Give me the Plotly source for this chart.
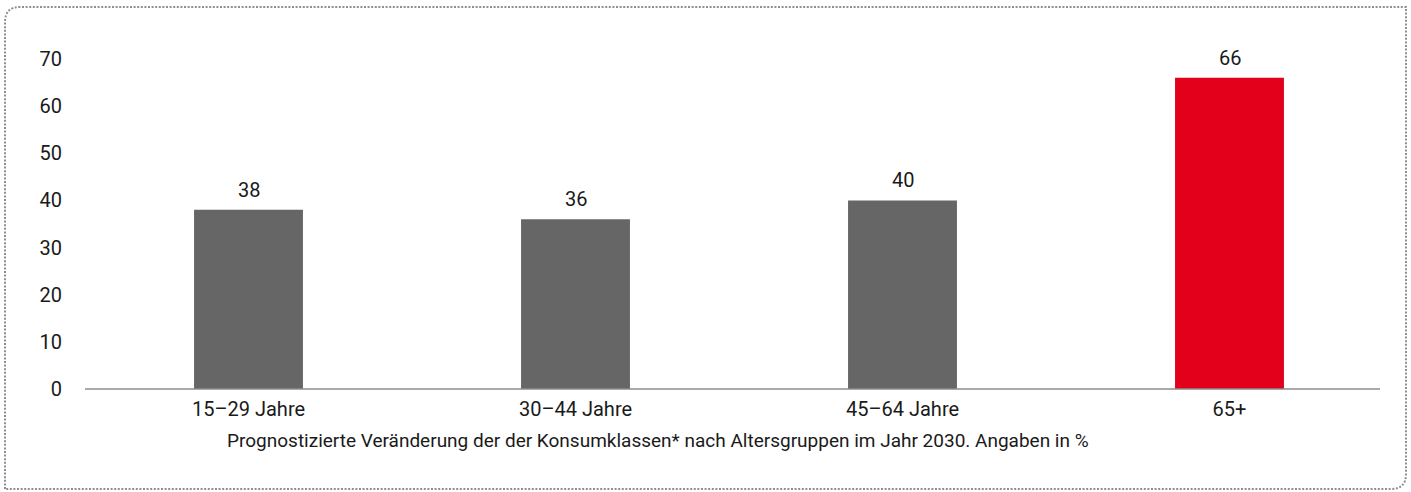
import plotly.graph_objects as go

categories = ["15–29 Jahre", "30–44 Jahre", "45–64 Jahre", "65+"]
values = [38, 36, 40, 66]
bar_colors = ["#666666", "#666666", "#666666", "#E2001A"]
subtitle = "Prognostizierte Veränderung der der Konsumklassen* nach Altersgruppen im Jahr 2030. Angaben in %"

W, H = 1411, 492
L, R, T, B = 85, 18, 59, 103
PW, PH = W - L - R, H - T - B

def px(x):
    return (x - L) / PW

def py(y):
    return (H - B - y) / PH

FONT = "Roboto"
FS = 20
TXT = "#1a1a1a"

fig = go.Figure()
fig.add_trace(go.Bar(
    x=categories, y=values, marker=dict(color=bar_colors, line=dict(width=0)),
    hoverinfo="skip", showlegend=False,
))

for c, v in zip(categories, values):
    fig.add_annotation(x=c, y=v, text=str(v), showarrow=False, yanchor="bottom",
                       yshift=6, font=dict(family=FONT, size=FS, color=TXT))

# caption below the axis
fig.add_annotation(xref="paper", yref="paper", x=px(657.5), y=py(441),
                   xanchor="center", yanchor="middle", showarrow=False, text=subtitle,
                   font=dict(family=FONT, size=19, color=TXT))

# baseline
fig.add_shape(type="line", xref="paper", yref="paper", x0=0, x1=px(1380), y0=0, y1=0,
              line=dict(color="#8c8c8c", width=1.5))

# dotted frame with rounded top-left and bottom-right corners
r = 15
x0, y0, x1, y1 = 5, 7, 1406, 489
path = (f"M {px(x0)},{py(y1)} L {px(x0)},{py(y0 + r)} "
        f"Q {px(x0)},{py(y0)} {px(x0 + r)},{py(y0)} "
        f"L {px(x1)},{py(y0)} L {px(x1)},{py(y1 - r)} "
        f"Q {px(x1)},{py(y1)} {px(x1 - r)},{py(y1)} Z")
fig.add_shape(type="path", xref="paper", yref="paper", path=path,
              line=dict(color="#8f8f8f", width=2, dash="2px,1.6px"))

fig.update_layout(
    width=W, height=H,
    margin=dict(l=L, r=R, t=T, b=B, autoexpand=False),
    plot_bgcolor="white", paper_bgcolor="white",
    bargap=0.667,
    font=dict(family=FONT, size=FS, color=TXT),
    xaxis=dict(showline=False, ticks="", showgrid=False, ticklabelstandoff=6,
               tickfont=dict(family=FONT, size=FS, color=TXT)),
    yaxis=dict(range=[0, 70], dtick=10, showgrid=False, zeroline=False, showline=False,
               ticks="", ticklabelstandoff=22,
               tickfont=dict(family=FONT, size=FS, color=TXT)),
)

fig.write_html("out.html", config={"displayModeBar": False},
               post_script="document.body.style.margin='0';document.body.style.overflow='hidden';")
